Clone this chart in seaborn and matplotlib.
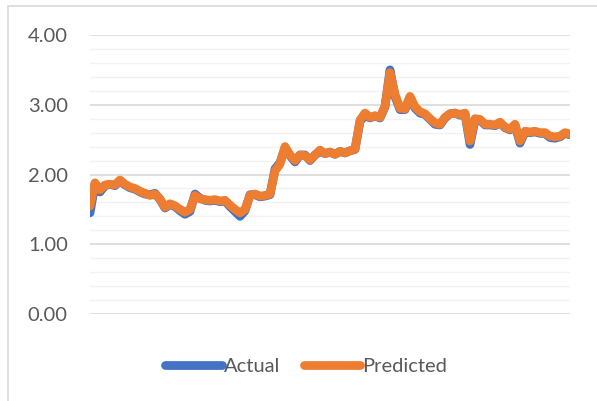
import numpy as np
import pandas as pd
import matplotlib
matplotlib.use("Agg")
import matplotlib.pyplot as plt
import seaborn as sns
from matplotlib.patches import Rectangle

# values, one every few days
predicted = [1.55, 1.88, 1.78, 1.85, 1.86, 1.85, 1.92, 1.86, 1.82, 1.80,
             1.76, 1.73, 1.70, 1.72, 1.65, 1.53, 1.58, 1.55, 1.50, 1.46,
             1.50, 1.70, 1.65, 1.64, 1.63, 1.64, 1.62, 1.63, 1.56, 1.50,
             1.45, 1.50, 1.70, 1.72, 1.69, 1.70, 1.72, 2.05, 2.15, 2.40,
             2.28, 2.20, 2.28, 2.27, 2.21, 2.28, 2.35, 2.30, 2.32, 2.29,
             2.33, 2.31, 2.34, 2.36, 2.78, 2.88, 2.82, 2.84, 2.82, 2.98,
             3.46, 3.15, 2.95, 2.94, 3.12, 2.97, 2.90, 2.87, 2.80, 2.74,
             2.72, 2.82, 2.87, 2.88, 2.86, 2.88, 2.48, 2.80, 2.79, 2.72,
             2.72, 2.71, 2.75, 2.68, 2.65, 2.72, 2.48, 2.62, 2.61, 2.62,
             2.60, 2.60, 2.55, 2.54, 2.55, 2.60, 2.58]
actual = [1.45, 1.86, 1.75, 1.84, 1.86, 1.84, 1.91, 1.85, 1.81, 1.79,
          1.75, 1.72, 1.71, 1.73, 1.64, 1.52, 1.57, 1.54, 1.48, 1.43,
          1.47, 1.72, 1.66, 1.63, 1.62, 1.63, 1.61, 1.62, 1.54, 1.47,
          1.40, 1.48, 1.71, 1.71, 1.68, 1.69, 1.71, 2.08, 2.17, 2.38,
          2.27, 2.18, 2.28, 2.28, 2.20, 2.28, 2.33, 2.30, 2.32, 2.29,
          2.33, 2.31, 2.34, 2.36, 2.76, 2.85, 2.81, 2.84, 2.81, 2.97,
          3.50, 3.12, 2.93, 2.93, 3.10, 2.95, 2.88, 2.86, 2.79, 2.72,
          2.71, 2.81, 2.87, 2.88, 2.85, 2.87, 2.43, 2.78, 2.78, 2.71,
          2.71, 2.70, 2.74, 2.67, 2.64, 2.71, 2.45, 2.61, 2.60, 2.61,
          2.59, 2.59, 2.53, 2.52, 2.54, 2.59, 2.57]
series_names = ["Actual", "Predicted"]
y_ticks = [0, 1, 2, 3, 4]
y_labels = ["0.00", "1.00", "2.00", "3.00", "4.00"]

df = pd.DataFrame({
    "day": list(range(len(actual))) * 2,
    "value": actual + predicted,
    "series": ["Actual"] * len(actual) + ["Predicted"] * len(predicted),
})

sns.set_style("white")
plt.rcParams["font.family"] = ["Lato", "DejaVu Sans"]

fig = plt.figure(figsize=(5.97, 4.01), dpi=100)
ax = fig.add_axes([90 / 597, 1 - 314 / 401, 480 / 597, 279 / 401])

sns.lineplot(data=df, x="day", y="value", hue="series", hue_order=series_names,
             palette=["#4472C4", "#ED7D31"], linewidth=6.3, ax=ax, legend=False,
             solid_capstyle="round", solid_joinstyle="round")

ax.set_xlim(0, len(actual) - 1)
ax.set_ylim(0, 4)
ax.set_yticks(y_ticks)
ax.set_yticklabels(y_labels)
ax.set_yticks(np.arange(0, 4.01, 0.2), minor=True)
ax.set_xticks([])
ax.set_xlabel("")
ax.set_ylabel("")
ax.grid(axis="y", which="minor", color="#F2F2F2", linewidth=1.0)
ax.grid(axis="y", which="major", color="#D9D9D9", linewidth=1.2)
ax.set_axisbelow(True)
for s in ax.spines.values():
    s.set_visible(False)
ax.tick_params(axis="y", which="both", length=0, labelsize=14.5,
               labelcolor="#595959", pad=16)

# legend drawn as in the spreadsheet, below the plot
handles = [plt.Line2D([], [], color=c, linewidth=6.3, solid_capstyle="round")
           for c in ["#4472C4", "#ED7D31"]]
fig.legend(handles, series_names, loc="center", bbox_to_anchor=(0.513, 0.087),
           ncol=2, frameon=False, fontsize=14.5, labelcolor="#595959",
           handlelength=2.8, handletextpad=0.1, columnspacing=1.2)

# chart-area border (only top and left edges visible in the crop)
fig.patches.append(Rectangle((8 / 597, -0.1), 1.2, 1 - 6 / 401 + 0.1,
                             transform=fig.transFigure, fill=False,
                             edgecolor="#D9D9D9", linewidth=1.2))

fig.savefig("out.png", dpi=100)
